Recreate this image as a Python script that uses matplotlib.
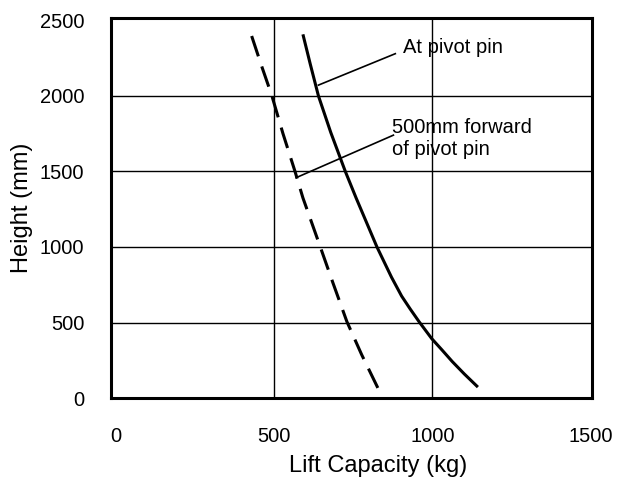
import matplotlib.pyplot as plt

plt.rcParams['font.family'] = ['Liberation Sans', 'DejaVu Sans']

# lift capacity (kg) vs height (mm)
pivot_height = [2407, 2212, 2000, 1758, 1500, 1325, 1000, 800, 675, 590, 506, 394, 320, 242, 160, 73]
pivot_capacity = [591, 614, 640, 679, 725, 759, 825, 871, 903, 930, 958, 998, 1030, 1063, 1101, 1144]

fwd_height = [2396, 2200, 2000, 1750, 1500, 1325, 1000, 762, 506, 286, 58]
fwd_capacity = [429, 460, 493, 528, 566, 591, 646, 686, 730, 777, 830]

x_ticks = [0, 500, 1000, 1500]
y_ticks = [0, 500, 1000, 1500, 2000, 2500]

fig = plt.figure(figsize=(6.21, 4.82), dpi=100)
ax = fig.add_axes([0.178, 0.174, 0.776, 0.788])

# grid only inside the frame
for xv in x_ticks[1:-1]:
    ax.axvline(xv, color='black', lw=1.0, zorder=1)
for yv in y_ticks[1:-1]:
    ax.axhline(yv, color='black', lw=1.0, zorder=1)

ax.plot(pivot_capacity, pivot_height, color='black', lw=2.2,
        solid_capstyle='butt', solid_joinstyle='round', zorder=3)
ax.plot(fwd_capacity, fwd_height, color='black', lw=2.2, dashes=(7, 3.5),
        dash_capstyle='butt', dash_joinstyle='round', zorder=3)

# leader lines + labels
ax.plot([883, 640], [2279, 2071], color='black', lw=1.2, zorder=2)
ax.text(908, 2318, 'At pivot pin', fontsize=14.5, va='center', ha='left')
ax.plot([877, 570], [1740, 1459], color='black', lw=1.2, zorder=2)
ax.text(873, 1718, '500mm forward\nof pivot pin', fontsize=14.5, va='center', ha='left')

ax.set_xlim(-17, 1506)
ax.set_ylim(39, 2513)
ax.set_xticks(x_ticks)
ax.set_yticks(y_ticks)
ax.tick_params(length=0, labelsize=14.5)
ax.tick_params(axis='x', pad=21)
ax.tick_params(axis='y', pad=19)
for s in ax.spines.values():
    s.set_linewidth(2.2)

ax.set_xlabel('Lift Capacity (kg)', fontsize=17)
ax.xaxis.set_label_coords(0.555, -0.15)
ax.set_ylabel('Height (mm)', fontsize=17)
ax.yaxis.set_label_coords(-0.16, 0.5)

plt.savefig('out.png', dpi=100)
